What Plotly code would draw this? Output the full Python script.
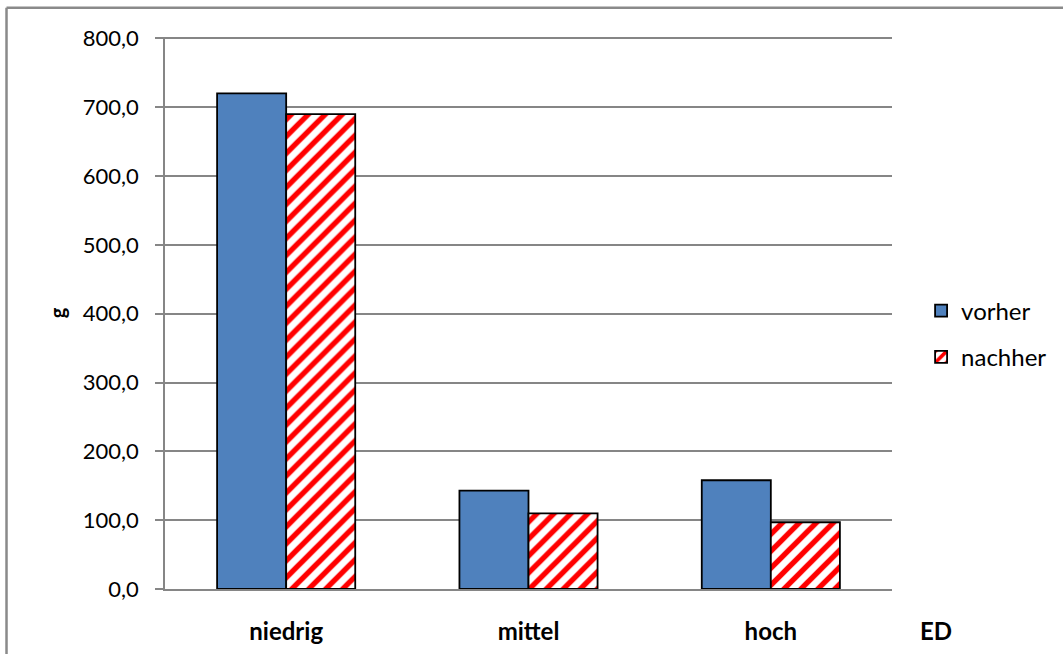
import plotly.graph_objects as go

# Gewicht (g) je ED-Stufe, vor und nach der Behandlung
categories = ["niedrig", "mittel", "hoch"]
vorher = [720.0, 143.0, 158.0]
nachher = [690.0, 110.0, 97.0]
y_ticks = [0, 100, 200, 300, 400, 500, 600, 700, 800]

FONT = "Lato"
GRID = "#868686"

fig = go.Figure()
fig.add_trace(go.Bar(
    name="vorher", x=categories, y=vorher,
    marker=dict(color="#4F81BD", line=dict(color="black", width=1.8)),
    legendgroup="a",
))
fig.add_trace(go.Bar(
    name="nachher", x=categories, y=nachher,
    marker=dict(
        color="white",
        line=dict(color="black", width=1.8),
        pattern=dict(shape="/", fgcolor="#FF0000", bgcolor="white",
                     size=12, solidity=0.45, fillmode="replace"),
    ),
    legendgroup="b",
))

fig.update_layout(
    width=1063, height=654,
    margin=dict(l=165, r=171, t=37, b=65, autoexpand=False),
    paper_bgcolor="white", plot_bgcolor="white",
    barmode="group", bargap=0.43, bargroupgap=0,
    separators=",.",
    font=dict(family=FONT, size=22, color="black"),
    showlegend=True,
    legend=dict(x=1.04, xanchor="left", y=0.462, yanchor="middle",
                font=dict(family=FONT, size=24),
                tracegroupgap=12, itemwidth=30, traceorder="grouped"),
    xaxis=dict(
        automargin=False,
        showgrid=False, showline=True, linecolor=GRID, linewidth=1.5,
        ticks="outside", ticklen=20, tickcolor="rgba(0,0,0,0)",
        tickfont=dict(family=FONT, size=24, weight="bold"),
    ),
    yaxis=dict(
        automargin=False,
        range=[0, 802], tickvals=y_ticks, tickformat=".1f",
        showgrid=True, gridcolor=GRID, gridwidth=1.5,
        showline=True, linecolor=GRID, linewidth=1.5,
        ticks="outside", ticklen=8, tickcolor=GRID, tickwidth=1.5,
        ticklabelstandoff=12,
        tickfont=dict(family=FONT, size=22),
        title=dict(text="g", font=dict(family=FONT, size=20, weight="bold"),
                   standoff=12),
        zeroline=False,
    ),
)

# Achsenbeschriftung rechts unten
fig.add_annotation(text="<b>ED</b>", xref="paper", yref="paper",
                   x=1.06, y=-0.075, showarrow=False,
                   font=dict(family=FONT, size=24), xanchor="center",
                   yanchor="middle")

# Rahmen des Diagrammbereichs (links und oben)
fig.add_shape(type="line", xref="paper", yref="paper",
              x0=-0.218, x1=1.3, y0=1.053, y1=1.053,
              line=dict(color="#8a8a8a", width=2.5))
fig.add_shape(type="line", xref="paper", yref="paper",
              x0=-0.218, x1=-0.218, y0=1.053, y1=-0.2,
              line=dict(color="#8a8a8a", width=2.5))

fig.write_html("out.html")
